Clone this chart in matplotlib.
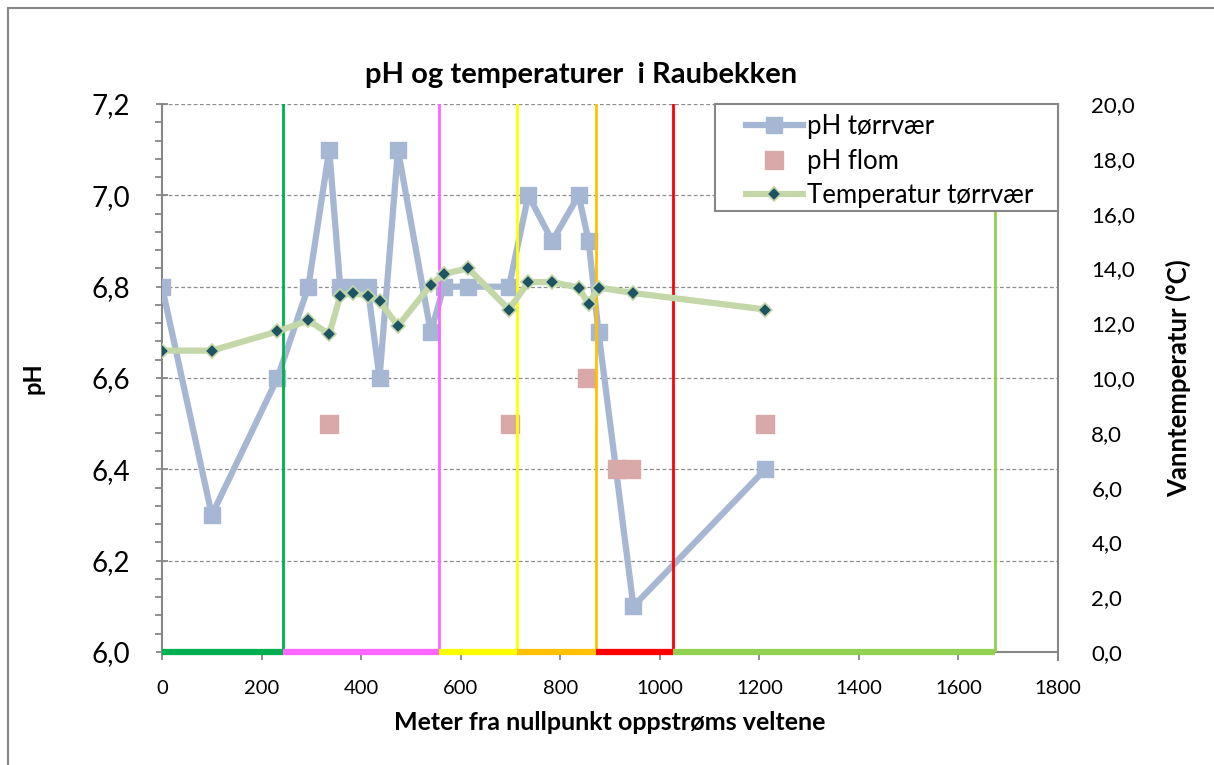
import matplotlib
matplotlib.use('Agg')
import matplotlib.pyplot as plt
import matplotlib.patches as patches
from matplotlib.ticker import FuncFormatter, MultipleLocator

plt.rcParams['font.family'] = ['Lato', 'DejaVu Sans']

# Sampling stations (meter from zero point) and measurements
meter = [0, 100, 232, 294, 336, 358, 383, 413, 437, 474, 540,
         566, 615, 697, 736, 784, 837, 857, 877, 947, 1212]
ph_dry = [6.8, 6.3, 6.6, 6.8, 7.1, 6.8, 6.8, 6.8, 6.6, 7.1, 6.7,
          6.8, 6.8, 6.8, 7.0, 6.9, 7.0, 6.9, 6.7, 6.1, 6.4]
temp_dry = [11.0, 11.0, 11.7, 12.1, 11.6, 13.0, 13.1, 13.0, 12.8, 11.9, 13.4,
            13.8, 14.0, 12.5, 13.5, 13.5, 13.3, 12.7, 13.3, 13.1, 12.5]

meter_flood = [335, 699, 853, 915, 943, 1212]
ph_flood = [6.5, 6.5, 6.6, 6.4, 6.4, 6.5]

# Stream sections along the x axis
zone_edges = [0, 244, 556, 714, 871, 1026, 1673]
zone_colors = ['#00B050', '#FF66FF', '#FFFF00', '#FFC000', '#FF0000', '#92D050']

c_ph = '#A6B7D4'
c_flood = '#D9A9A9'
c_temp = '#C4D7A8'
c_diamond = '#1D5464'
c_axis = '#878787'

comma1 = FuncFormatter(lambda v, p: f'{v:.1f}'.replace('.', ','))

fig = plt.figure(figsize=(12.14, 7.65), dpi=100)
ax = fig.add_axes([162/1214, 1 - 652/765, (1058-162)/1214, (652-104)/765])
ax2 = ax.twinx()

# pH series
ax.plot(meter, ph_dry, color=c_ph, lw=4.5, marker='s', ms=12,
        mfc=c_ph, mec=c_ph, zorder=3, label='pH tørrvær')
ax.plot(meter_flood, ph_flood, ls='none', marker='s', ms=13,
        mfc=c_flood, mec=c_flood, zorder=3, label='pH flom')

ax.set_xlim(0, 1800)
ax.set_ylim(6.0, 7.2)
ax.xaxis.set_major_locator(MultipleLocator(200))
ax.yaxis.set_major_locator(MultipleLocator(0.2))
ax.yaxis.set_minor_locator(MultipleLocator(0.04))
ax.yaxis.set_major_formatter(comma1)
ax.grid(axis='y', which='major', color='#8C8C8C', ls=(0, (3, 2)), lw=0.9)
ax.set_axisbelow(True)

for s in ['top', 'right']:
    ax.spines[s].set_visible(False)
for s in ['left', 'bottom']:
    ax.spines[s].set_color(c_axis)
    ax.spines[s].set_linewidth(1.5)

ax.tick_params(axis='y', which='major', direction='inout', length=8, width=1.3,
               color=c_axis, labelsize=20, pad=19)
ax.tick_params(axis='y', which='minor', direction='out', length=5, width=1.3,
               color=c_axis)
ax.tick_params(axis='x', direction='out', length=6, width=1.3, color=c_axis,
               labelsize=14.5, pad=14)
ax.set_ylabel('pH', fontsize=17, fontweight='bold', labelpad=34)
ax.set_xlabel('Meter fra nullpunkt oppstrøms veltene', fontsize=18,
              fontweight='bold', labelpad=10)

# section boundaries and coloured segments on the x axis
for i, col in enumerate(zone_colors):
    ax2.axvline(zone_edges[i + 1], color=col, lw=2, zorder=2)
    ax2.plot([zone_edges[i], zone_edges[i + 1]], [0, 0], color=col, lw=4.5,
             solid_capstyle='butt', clip_on=False, zorder=4)

# temperature series
ax2.plot(meter, temp_dry, color=c_temp, lw=4.5, marker='D', ms=7,
         mfc=c_diamond, mec=c_temp, mew=1.2, zorder=4.5,
         label='Temperatur tørrvær')
ax2.set_ylim(0, 20)
ax2.yaxis.set_major_locator(MultipleLocator(2))
ax2.yaxis.set_major_formatter(comma1)
ax2.tick_params(axis='y', length=0, labelsize=16, pad=24)
for s in ['top', 'left', 'bottom']:
    ax2.spines[s].set_visible(False)
ax2.spines['right'].set_color(c_axis)
ax2.spines['right'].set_linewidth(1.5)
ax2.spines['right'].set_bounds(-0.3, 20)
ax2.set_ylabel('Vanntemperatur (°C)', fontsize=18.5, fontweight='bold',
               labelpad=22)

# legend box drawn separately, entries placed inside it
ax2.add_patch(patches.Rectangle((0.617, 0.8047), 0.3835, 0.1953,
                                transform=ax2.transAxes, facecolor='white',
                                edgecolor=c_axis, lw=1.5, zorder=4.8,
                                clip_on=False))
h1, l1 = ax.get_legend_handles_labels()
h2, l2 = ax2.get_legend_handles_labels()
leg = ax2.legend(h1 + h2, l1 + l2, loc='upper left',
                 bbox_to_anchor=(0.652, 0.981), borderaxespad=0, borderpad=0,
                 frameon=False, fontsize=18.5, handlelength=2.2,
                 labelspacing=0.36, handletextpad=0.15)

fig.text(0.4786, 1 - 75/765, 'pH og temperaturer  i Raubekken', ha='center',
         va='center', fontsize=21, fontweight='bold')

# chart area border
fig.patches.append(patches.Rectangle((8/1214, -0.1), 1.2, 1 - 8/765 + 0.1,
                                     transform=fig.transFigure, fill=False,
                                     edgecolor=c_axis, lw=1.5))

fig.savefig('out.png', dpi=100, facecolor='white')
